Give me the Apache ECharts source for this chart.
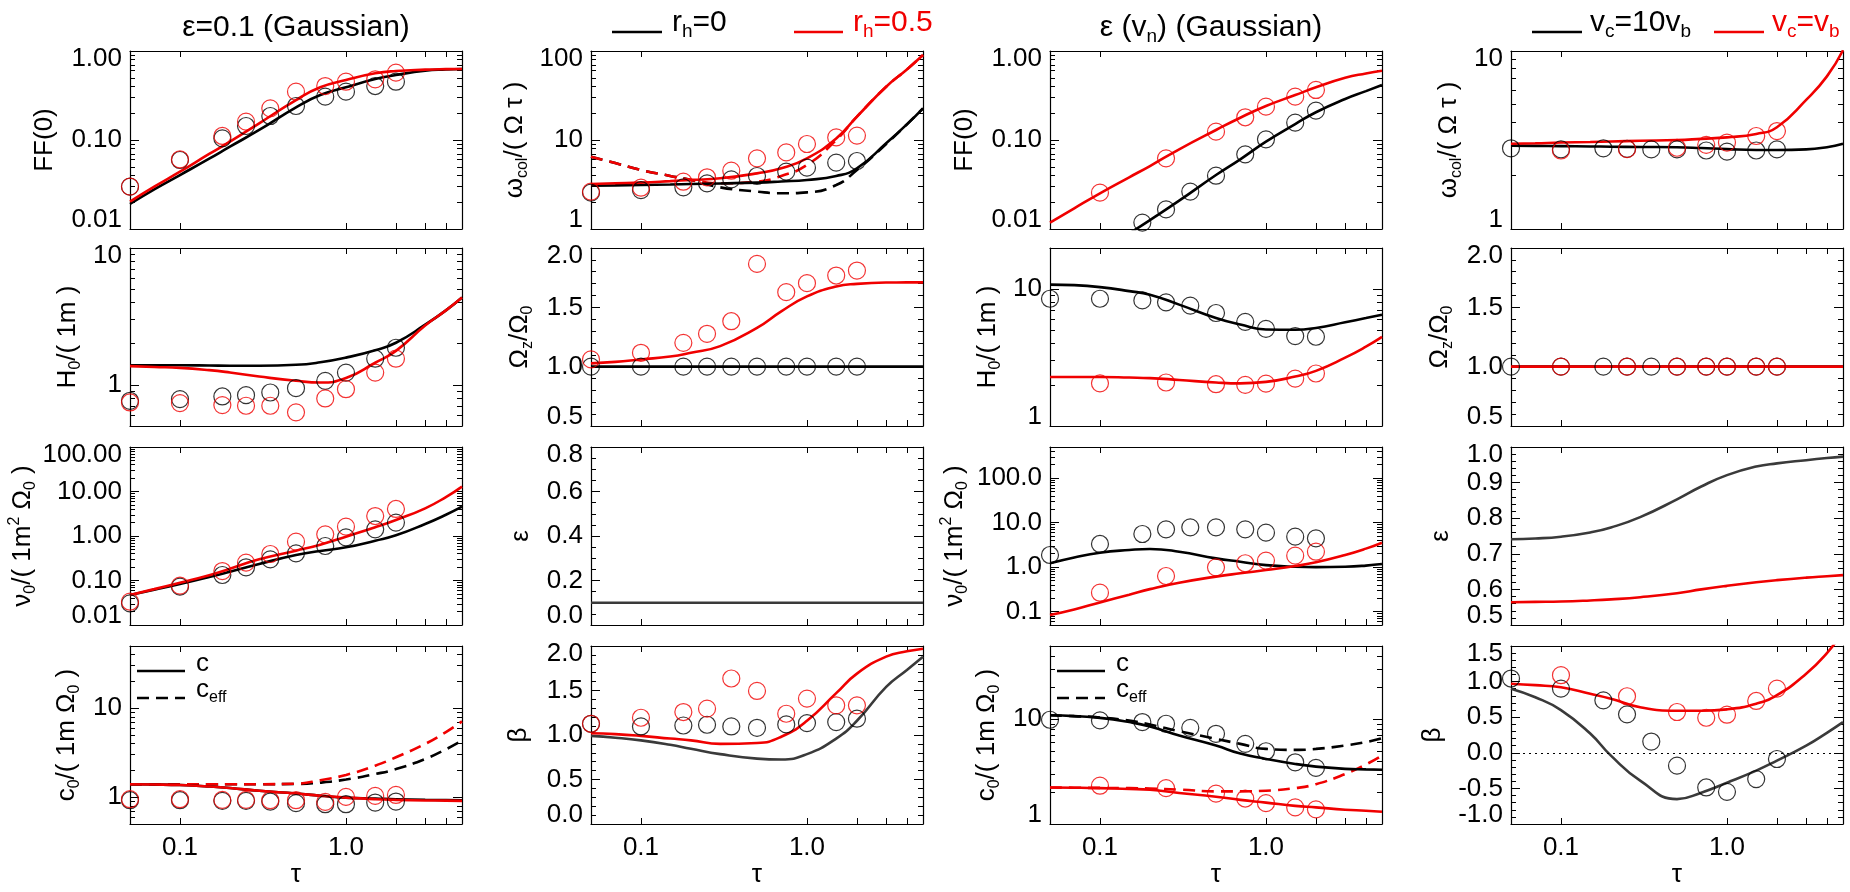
<!DOCTYPE html>
<html>
<head>
<meta charset="utf-8">
<title>Gaussian model comparison</title>
<script src="https://cdn.jsdelivr.net/npm/echarts@6/dist/echarts.min.js"></script>
<style>
  html, body { margin: 0; padding: 0; background: #fff; }
  #chart { width: 1850px; height: 892px; }
</style>
</head>
<body>
<div id="chart"></div>
<script>
// tau sampling of the model curves and of the simulation points
const tauLine = [0.05, 0.07, 0.1, 0.15, 0.2, 0.3, 0.5, 0.7, 1, 1.5, 2, 3, 4, 5];
const tauSim = [0.05, 0.1, 0.18, 0.25, 0.35, 0.5, 0.75, 1.0, 1.5, 2.0];
const tauSimRed = [0.1, 0.25, 0.5, 0.75, 1.0, 1.5, 2.0];
const xTickValues = [0.1, 1, 2, 3, 4];
const xLabelValues = [0.1, 1];
const xLabelText = ['0.1', '1.0'];

// column 1: eps = 0.1, r_h = 0 (black) / 0.5 (red)
const ff1Black = [0.0191, 0.0279, 0.0404, 0.0617, 0.0842, 0.1296, 0.233, 0.32, 0.391, 0.484, 0.537, 0.601, 0.620, 0.628];
const ff1Red = [0.0203, 0.0299, 0.044, 0.0697, 0.0958, 0.154, 0.281, 0.391, 0.472, 0.561, 0.596, 0.617, 0.625, 0.628];
const ff1BlackPts = [0.0299, 0.0596, 0.1044, 0.1436, 0.186, 0.241, 0.307, 0.349, 0.404, 0.452];
const ff1RedPts = [0.0299, 0.0605, 0.111, 0.1607, 0.227, 0.349, 0.404, 0.452, 0.481, 0.571];
const h1Black = [1.39, 1.39, 1.39, 1.385, 1.38, 1.38, 1.40, 1.46, 1.58, 1.79, 2.03, 2.75, 3.5, 4.35];
const h1Red = [1.37, 1.35, 1.33, 1.28, 1.23, 1.15, 1.07, 1.04, 1.12, 1.45, 1.77, 2.71, 3.5, 4.35];
const h1BlackPts = [0.764, 0.786, 0.822, 0.840, 0.879, 0.945, 1.068, 1.228, 1.552, 1.866];
const h1RedPts = [0.743, 0.735, 0.711, 0.703, 0.703, 0.629, 0.795, 0.929, 1.228, 1.552];
const nu1Black = [0.0472, 0.062, 0.0834, 0.120, 0.158, 0.235, 0.374, 0.46, 0.556, 0.785, 1.035, 1.86, 3.0, 4.56];
const nu1Red = [0.0472, 0.064, 0.0893, 0.132, 0.184, 0.299, 0.468, 0.638, 0.966, 1.57, 2.29, 4.19, 7.5, 12.9];
const nu1BlackPts = [0.0307, 0.0726, 0.133, 0.198, 0.299, 0.408, 0.596, 0.933, 1.41, 2.0];
const nu1RedPts = [0.0334, 0.0766, 0.163, 0.252, 0.394, 0.746, 1.09, 1.62, 2.81, 4.05];
const c1Black = [1.40, 1.39, 1.37, 1.32, 1.27, 1.18, 1.10, 1.04, 0.99, 0.967, 0.95, 0.935, 0.93, 0.925];
const c1Red = [1.40, 1.39, 1.37, 1.32, 1.27, 1.18, 1.10, 1.04, 0.99, 0.95, 0.933, 0.92, 0.915, 0.91];
const cEff1Black = [1.40, 1.40, 1.40, 1.40, 1.40, 1.40, 1.41, 1.46, 1.58, 1.82, 2.07, 2.69, 3.45, 4.33];
const cEff1Red = [1.40, 1.40, 1.40, 1.40, 1.40, 1.40, 1.42, 1.55, 1.78, 2.26, 2.81, 3.97, 5.4, 7.11];
const c1BlackPts = [0.925, 0.925, 0.91, 0.91, 0.894, 0.857, 0.834, 0.834, 0.871, 0.894];
const c1RedPts = [0.95, 0.95, 0.933, 0.933, 0.925, 0.925, 0.887, 1.01, 1.035, 1.06];

// column 2
const w2Black = [3.07, 3.09, 3.12, 3.16, 3.20, 3.25, 3.32, 3.42, 3.56, 3.94, 4.81, 9.18, 15.0, 22.7];
const w2Red = [3.20, 3.26, 3.32, 3.45, 3.56, 3.71, 4.22, 4.81, 6.22, 10.4, 18.3, 39.7, 62, 90.1];
const w2BlackDash = [6.5, 5.5, 4.6, 3.95, 3.56, 2.94, 2.63, 2.52, 2.58, 3.12, 4.6, 9.02, 15.0, 22.7];
const w2RedDash = [6.5, 5.5, 4.6, 3.95, 3.56, 3.26, 3.40, 3.94, 5.24, 10.0, 18.3, 39.7, 62, 90.1];
const w2BlackPts = [2.56, 2.74, 2.94, 3.26, 3.61, 3.94, 4.41, 4.89, 5.56, 5.81];
const w2RedPts = [2.63, 2.91, 3.40, 3.81, 4.52, 6.22, 7.26, 9.02, 10.7, 11.2];
const oz2Black = [1, 1, 1, 1, 1, 1, 1, 1, 1, 1, 1, 1, 1, 1];
const oz2Red = [1.028, 1.04, 1.061, 1.085, 1.117, 1.173, 1.327, 1.466, 1.592, 1.676, 1.698, 1.709, 1.71, 1.71];
const oz2BlackPts = [1, 1, 1, 1, 1, 1, 1, 1, 1, 1];
const oz2RedPts = [1.061, 1.117, 1.201, 1.277, 1.383, 1.866, 1.628, 1.704, 1.768, 1.810];
const eps2 = [0.1, 0.1, 0.1, 0.1, 0.1, 0.1, 0.1, 0.1, 0.1, 0.1, 0.1, 0.1, 0.1, 0.1];
const b2Black = [0.99, 0.97, 0.94, 0.89, 0.845, 0.785, 0.735, 0.725, 0.785, 0.96, 1.16, 1.54, 1.73, 1.88];
const b2Red = [1.02, 1.01, 0.99, 0.96, 0.94, 0.90, 0.91, 0.98, 1.16, 1.47, 1.69, 1.88, 1.94, 1.97];
const b2BlackPts = [1.126, 1.096, 1.107, 1.115, 1.096, 1.081, 1.119, 1.134, 1.145, 1.183];
const b2RedPts = [1.126, 1.194, 1.258, 1.296, 1.635, 1.495, 1.239, 1.409, 1.333, 1.333];

// column 3: eps(v_n)
const ff3Black = [null, null, null, 0.0089, 0.0126, 0.0208, 0.0404, 0.0607, 0.0958, 0.151, 0.205, 0.289, 0.354, 0.415];
const ff3Red = [0.0118, 0.0171, 0.0252, 0.0381, 0.051, 0.0786, 0.1296, 0.178, 0.241, 0.32, 0.391, 0.501, 0.56, 0.601];
const ff3BlackPts = [null, null, 0.0118, 0.0166, 0.0263, 0.0397, 0.069, 0.1017, 0.1566, 0.214];
const ff3RedPts = [0.0256, 0.0622, 0.124, 0.18, 0.237, 0.307, 0.365];
const h3Black = [10.8, 10.7, 10.35, 9.68, 9.12, 7.71, 6.16, 5.51, 5.07, 5.05, 5.21, 5.73, 6.15, 6.51];
const h3Red = [2.28, 2.28, 2.28, 2.26, 2.24, 2.17, 2.08, 2.05, 2.10, 2.30, 2.53, 3.16, 3.8, 4.48];
const h3BlackPts = [8.51, 8.51, 8.28, 8.01, 7.58, 6.70, 5.77, 5.13, 4.54, 4.49];
const h3RedPts = [2.05, 2.08, 2.02, 2.0, 2.04, 2.22, 2.42];
const nu3Black = [1.22, 1.65, 2.11, 2.42, 2.55, 2.22, 1.57, 1.32, 1.11, 1.02, 1.0, 1.02, 1.08, 1.17];
const nu3Red = [0.084, 0.112, 0.161, 0.24, 0.32, 0.447, 0.61, 0.725, 0.86, 1.06, 1.28, 1.87, 2.6, 3.54];
const nu3BlackPts = [1.87, 3.31, 5.55, 7.06, 7.83, 7.83, 7.06, 5.94, 4.83, 4.43];
const nu3RedPts = [0.266, 0.631, 0.989, 1.22, 1.40, 1.81, 2.22];
const c3Black = [10.9, 10.7, 10.3, 9.4, 8.53, 7.0, 5.61, 4.70, 4.18, 3.74, 3.53, 3.36, 3.32, 3.30];
const c3Red = [2.23, 2.22, 2.20, 2.16, 2.12, 1.98, 1.82, 1.70, 1.60, 1.49, 1.44, 1.37, 1.34, 1.31];
const cEff3Black = [10.9, 10.7, 10.4, 9.7, 8.9, 7.7, 6.50, 5.82, 5.21, 5.10, 5.21, 5.61, 6.05, 6.59];
const cEff3Red = [2.23, 2.22, 2.21, 2.20, 2.18, 2.13, 2.05, 2.05, 2.08, 2.20, 2.40, 3.0, 3.7, 4.50];
const c3BlackPts = [9.89, 9.75, 9.40, 9.05, 8.28, 7.26, 5.82, 4.95, 3.88, 3.43];
const c3RedPts = [2.32, 2.20, 1.95, 1.75, 1.58, 1.44, 1.38];

// column 4: v_c = 10 v_b (black) / v_c = v_b (red)
const w4Black = [2.94, 2.93, 2.92, 2.91, 2.90, 2.89, 2.88, 2.85, 2.81, 2.78, 2.78, 2.80, 2.88, 3.01];
const w4Red = [3.01, 3.03, 3.06, 3.08, 3.10, 3.13, 3.16, 3.21, 3.27, 3.42, 3.73, 5.31, 7.2, 10.1];
const w4BlackPts = [2.84, 2.80, 2.84, 2.82, 2.80, 2.80, 2.76, 2.72, 2.76, 2.80];
const w4RedPts = [2.76, 2.81, 2.86, 2.97, 3.06, 3.33, 3.55];
const oz4Black = [1, 1, 1, 1, 1, 1, 1, 1, 1, 1, 1, 1, 1, 1];
const oz4Red = [1, 1, 1, 1, 1, 1, 1, 1, 1, 1, 1, 1, 1, 1];
const oz4BlackPts = [1, 1, 1, 1, 1, 1, 1, 1, 1, 1];
const oz4RedPts = [1, 1, 1, 1, 1, 1, 1];
const eps4Black = [0.741, 0.743, 0.748, 0.760, 0.774, 0.803, 0.853, 0.889, 0.921, 0.945, 0.954, 0.963, 0.969, 0.973];
const eps4Red = [0.564, 0.565, 0.566, 0.569, 0.572, 0.578, 0.589, 0.600, 0.610, 0.620, 0.626, 0.633, 0.637, 0.640];
const b4Black = [0.90, 0.78, 0.60, 0.27, -0.04, -0.39, -0.65, -0.56, -0.42, -0.25, -0.11, 0.10, 0.28, 0.43];
const b4Red = [0.97, 0.95, 0.92, 0.83, 0.76, 0.64, 0.59, 0.59, 0.61, 0.69, 0.81, 1.11, 1.40, 1.70];
const b4BlackPts = [1.043, 0.902, 0.737, 0.540, 0.158, -0.181, -0.487, -0.548, -0.369, -0.087];
const b4RedPts = [1.090, 0.794, 0.573, 0.492, 0.535, 0.728, 0.902];

const BLACK = '#000000';
const RED = '#f00000';
const GRAY = '#3a3a3a';
const FONT = '"Liberation Sans", Arial, Helvetica, sans-serif';
const TICK_FONT = 26;
const NAME_FONT = 26;

const colLeft = [130, 591, 1050, 1511];
const rowTop = [51, 248, 447, 646];
const PW = 332, PH = 178;

function logMinor(lo, hi) {
  const out = [];
  for (let d = Math.floor(Math.log10(lo)); d <= Math.ceil(Math.log10(hi)); d++) {
    for (let k = 2; k <= 9; k++) {
      const v = parseFloat((k * Math.pow(10, d)).toPrecision(6));
      if (v > lo && v < hi) out.push(v);
    }
  }
  return out;
}
function linMinor(lo, hi, step) {
  const out = [];
  const n = Math.round((hi - lo) / step);
  for (let i = 1; i < n; i++) out.push(Math.round((lo + i * step) * 1000) / 1000);
  return out;
}

const L = (v, c, dash) => ({ v, c, dash });
const P = (x, v, c) => ({ x, v, c });

const ffAxis = { type: 'log', min: 0.01, max: 1, labels: [0.01, 0.1, 1], dec: 2, minor: logMinor(0.01, 1) };
const ozAxis = { type: 'value', min: 0.5, max: 2, labels: [0.5, 1, 1.5, 2], dec: 1, minor: linMinor(0.5, 2, 0.1) };

const panels = [
  { col: 0, row: 0, name: 'FF(0)', gap: 69, y: ffAxis,
    lines: [L(ff1Black, BLACK), L(ff1Red, RED)],
    pts: [P(tauSim, ff1BlackPts, BLACK), P(tauSim, ff1RedPts, RED)] },
  { col: 0, row: 1, name: 'H{sub|0}/( 1m )', gap: 46,
    y: { type: 'log', min: 0.5, max: 10, labels: [1, 10], dec: 0, minor: logMinor(0.5, 10) },
    lines: [L(h1Black, BLACK), L(h1Red, RED)],
    pts: [P(tauSim, h1BlackPts, BLACK), P(tauSim, h1RedPts, RED)] },
  { col: 0, row: 2, name: 'ν{sub|0}/( 1m{sup|2} Ω{sub|0} )', gap: 89,
    y: { type: 'log', min: 0.01, max: 100, labels: [0.01, 0.1, 1, 10, 100], dec: 2, minor: logMinor(0.01, 100) },
    lines: [L(nu1Black, BLACK), L(nu1Red, RED)],
    pts: [P(tauSim, nu1BlackPts, BLACK), P(tauSim, nu1RedPts, RED)] },
  { col: 0, row: 3, name: 'c{sub|0}/( 1m Ω{sub|0} )', gap: 47, legendC: true,
    y: { type: 'log', min: 0.5, max: 50, labels: [1, 10], dec: 0, minor: logMinor(0.5, 50) },
    lines: [L(cEff1Black, BLACK, true), L(cEff1Red, RED, true), L(c1Black, BLACK), L(c1Red, RED)],
    pts: [P(tauSim, c1BlackPts, BLACK), P(tauSim, c1RedPts, RED)] },

  { col: 1, row: 0, name: 'ω{sub|col}/( Ω τ )', gap: 60,
    y: { type: 'log', min: 1, max: 100, labels: [1, 10, 100], dec: 0, minor: logMinor(1, 100) },
    lines: [L(w2BlackDash, BLACK, true), L(w2RedDash, RED, true), L(w2Black, BLACK), L(w2Red, RED)],
    pts: [P(tauSim, w2BlackPts, BLACK), P(tauSim, w2RedPts, RED)] },
  { col: 1, row: 1, name: 'Ω{sub|z}/Ω{sub|0}', gap: 55, y: ozAxis,
    lines: [L(oz2Black, BLACK), L(oz2Red, RED)],
    pts: [P(tauSim, oz2BlackPts, BLACK), P(tauSim, oz2RedPts, RED)] },
  { col: 1, row: 2, name: 'ε', gap: 54,
    y: { type: 'value', min: 0, max: 0.8, labels: [0, 0.2, 0.4, 0.6, 0.8], dec: 1, minor: linMinor(0, 0.8, 0.05) },
    lines: [L(eps2, GRAY)], pts: [] },
  { col: 1, row: 3, name: 'β', gap: 56,
    y: { type: 'value', min: 0, max: 2, labels: [0, 0.5, 1, 1.5, 2], dec: 1, minor: linMinor(0, 2, 0.1) },
    lines: [L(b2Black, GRAY), L(b2Red, RED)],
    pts: [P(tauSim, b2BlackPts, BLACK), P(tauSim, b2RedPts, RED)] },

  { col: 2, row: 0, name: 'FF(0)', gap: 69, y: ffAxis,
    lines: [L(ff3Black, BLACK), L(ff3Red, RED)],
    pts: [P(tauSim, ff3BlackPts, BLACK), P(tauSimRed, ff3RedPts, RED)] },
  { col: 2, row: 1, name: 'H{sub|0}/( 1m )', gap: 46,
    y: { type: 'log', min: 1, max: 20, labels: [1, 10], dec: 0, minor: logMinor(1, 20) },
    lines: [L(h3Black, BLACK), L(h3Red, RED)],
    pts: [P(tauSim, h3BlackPts, BLACK), P(tauSimRed, h3RedPts, RED)] },
  { col: 2, row: 2, name: 'ν{sub|0}/( 1m{sup|2} Ω{sub|0} )', gap: 79,
    y: { type: 'log', min: 0.05, max: 500, labels: [0.1, 1, 10, 100], dec: 1, minor: logMinor(0.05, 500) },
    lines: [L(nu3Black, BLACK), L(nu3Red, RED)],
    pts: [P(tauSim, nu3BlackPts, BLACK), P(tauSimRed, nu3RedPts, RED)] },
  { col: 2, row: 3, name: 'c{sub|0}/( 1m Ω{sub|0} )', gap: 47, legendC: true,
    y: { type: 'log', min: 1, max: 50, labels: [1, 10], dec: 0, minor: logMinor(1, 50) },
    lines: [L(cEff3Black, BLACK, true), L(cEff3Red, RED, true), L(c3Black, BLACK), L(c3Red, RED)],
    pts: [P(tauSim, c3BlackPts, BLACK), P(tauSimRed, c3RedPts, RED)] },

  { col: 3, row: 0, name: 'ω{sub|col}/( Ω τ )', gap: 46,
    y: { type: 'log', min: 1, max: 10, labels: [1, 10], dec: 0, minor: logMinor(1, 10) },
    lines: [L(w4Black, BLACK), L(w4Red, RED)],
    pts: [P(tauSim, w4BlackPts, BLACK), P(tauSimRed, w4RedPts, RED)] },
  { col: 3, row: 1, name: 'Ω{sub|z}/Ω{sub|0}', gap: 55, y: ozAxis,
    lines: [L(oz4Black, BLACK), L(oz4Red, RED)],
    pts: [P(tauSim, oz4BlackPts, BLACK), P(tauSimRed, oz4RedPts, RED)] },
  { col: 3, row: 2, name: 'ε', gap: 54,
    y: { type: 'value', min: 0.5, max: 1, labels: [0.5, 0.6, 0.7, 0.8, 0.9, 1.0], dec: 1, minor: linMinor(0.5, 1, 0.02) },
    lines: [L(eps4Black, GRAY), L(eps4Red, RED)], pts: [] },
  { col: 3, row: 3, name: 'β', gap: 62, zeroLine: true,
    y: { type: 'value', min: -1, max: 1.5, labels: [-1, -0.5, 0, 0.5, 1, 1.5], dec: 1, minor: linMinor(-1, 1.5, 0.1) },
    lines: [L(b4Black, GRAY), L(b4Red, RED)],
    pts: [P(tauSim, b4BlackPts, BLACK), P(tauSimRed, b4RedPts, RED)] }
];

const grid = [], xAxis = [], yAxis = [], series = [];

const near = (a, b) => Math.abs(a - b) <= 1e-6 * Math.max(1, Math.abs(b));
const frame = () => ({ show: true, onZero: false, lineStyle: { color: '#000', width: 1.2 } });
const tickStyle = () => ({ color: '#000', width: 1 });
const nameStyle = () => ({
  fontSize: NAME_FONT, color: '#000', fontFamily: FONT, lineHeight: 32,
  rich: {
    sub: { fontSize: 16, lineHeight: 16, verticalAlign: 'bottom', color: '#000', fontFamily: FONT },
    sup: { fontSize: 16, lineHeight: 16, verticalAlign: 'top', color: '#000', fontFamily: FONT }
  }
});

function addXAxes(gi, bottomRow) {
  const base = () => ({
    type: 'log', logBase: 10, gridIndex: gi, min: 0.05, max: 5,
    splitLine: { show: false },
    axisLine: frame(),
    axisTick: { show: true, inside: true, length: 6, customValues: xTickValues, lineStyle: tickStyle() }
  });
  xAxis.push(Object.assign(base(), {
    position: 'bottom',
    axisLabel: {
      show: bottomRow, customValues: xLabelValues, margin: 11,
      fontSize: TICK_FONT, color: '#000', fontFamily: FONT,
      formatter: v => {
        const i = xLabelValues.findIndex(t => near(v, t));
        return i >= 0 ? xLabelText[i] : '';
      }
    },
    name: bottomRow ? 'τ' : '', nameLocation: 'middle', nameGap: 36,
    nameTextStyle: { fontSize: NAME_FONT, color: '#000', fontFamily: FONT }
  }));
  xAxis.push(Object.assign(base(), { position: 'top', axisLabel: { show: false } }));
}

function addYAxes(gi, p) {
  const y = p.y;
  const base = () => ({ type: y.type, logBase: 10, gridIndex: gi, min: y.min, max: y.max, splitLine: { show: false } });
  const lab = { fontSize: TICK_FONT, color: '#000', fontFamily: FONT };
  yAxis.push(Object.assign(base(), {
    position: 'left',
    axisLine: frame(),
    axisTick: { show: true, inside: true, length: 9, customValues: y.labels, lineStyle: tickStyle() },
    axisLabel: Object.assign({}, lab, {
      customValues: y.labels, margin: 8,
      formatter: v => {
        const s = v.toFixed(y.dec);
        if (near(v, y.max)) return '{t|' + s + '}';
        if (near(v, y.min)) return '{b|' + s + '}';
        return s;
      },
      rich: {
        t: Object.assign({ padding: [16, 0, 0, 0] }, lab),
        b: Object.assign({ padding: [0, 0, 18, 0] }, lab)
      }
    }),
    name: p.name, nameLocation: 'middle', nameGap: p.gap, nameTextStyle: nameStyle()
  }));
  yAxis.push(Object.assign(base(), {
    position: 'right', axisLine: frame(),
    axisTick: { show: true, inside: true, length: 9, customValues: y.labels, lineStyle: tickStyle() },
    axisLabel: { show: false }
  }));
  ['left', 'right'].forEach(pos => yAxis.push(Object.assign(base(), {
    position: pos, axisLine: { show: false },
    axisTick: { show: true, inside: true, length: 5, customValues: y.minor, lineStyle: tickStyle() },
    axisLabel: { show: false }
  })));
}

const zip = (xs, vs) => xs.map((x, i) => [x, vs[i]]).filter(d => d[1] !== null && d[1] !== undefined);

panels.forEach(p => {
  const gi = grid.length;
  grid.push({ left: colLeft[p.col], top: rowTop[p.row], width: PW, height: PH, outerBoundsMode: 'none' });
  const xi = xAxis.length;
  addXAxes(gi, p.row === 3);
  const yi = yAxis.length;
  addYAxes(gi, p);

  p.lines.forEach((l, k) => {
    const s = {
      type: 'line', xAxisIndex: xi, yAxisIndex: yi,
      data: zip(tauLine, l.v), smooth: 0.5, symbol: 'none', silent: true,
      lineStyle: { color: l.c, width: 2.6, type: l.dash ? [12, 7] : 'solid' },
      z: 3
    };
    if (p.zeroLine && k === 0) {
      s.markLine = {
        silent: true, symbol: 'none', label: { show: false },
        lineStyle: { color: '#000', width: 1.2, type: [2, 4] },
        data: [{ yAxis: 0 }]
      };
    }
    series.push(s);
  });
  p.pts.forEach(s => series.push({
    type: 'scatter', xAxisIndex: xi, yAxisIndex: yi,
    data: zip(s.x, s.v), symbol: 'circle', symbolSize: 17, silent: true,
    itemStyle: { color: 'rgba(0,0,0,0)', borderColor: s.c, borderWidth: 1.2 },
    z: 4
  }));
});

// titles, legends and the c / c_eff keys
const subRich = (size, color) => ({
  sub: { fontSize: size, lineHeight: size, verticalAlign: 'bottom', fill: color, fontFamily: FONT }
});
function gText(text, x, y, size, color, align) {
  return {
    type: 'text', x, y, silent: true,
    style: {
      text, fill: color, fontSize: size, fontFamily: FONT, lineHeight: size + 6,
      align: align || 'left', verticalAlign: 'middle', rich: subRich(Math.round(size * 0.62), color)
    }
  };
}
function gLine(x1, x2, y, color, dash) {
  return {
    type: 'line', silent: true, shape: { x1, y1: y, x2, y2: y },
    style: { stroke: color, lineWidth: dash ? 2.6 : 2.4, lineDash: dash ? [12, 7] : null }
  };
}

const graphic = [
  gText('ε=0.1 (Gaussian)', 296, 28, 30, BLACK, 'center'),
  gText('ε (v{sub|n}) (Gaussian)', 1211, 28, 30, BLACK, 'center'),
  gLine(612, 662, 32, BLACK), gText('r{sub|h}=0', 672, 23, 30, BLACK),
  gLine(794, 843, 32, RED), gText('r{sub|h}=0.5', 853, 23, 30, RED),
  gLine(1532, 1582, 32, BLACK), gText('v{sub|c}=10v{sub|b}', 1590, 23, 30, BLACK),
  gLine(1714, 1764, 32, RED), gText('v{sub|c}=v{sub|b}', 1772, 23, 30, RED)
];
panels.filter(p => p.legendC).forEach(p => {
  const x0 = colLeft[p.col];
  graphic.push(gLine(x0 + 7, x0 + 55, 671, BLACK));
  graphic.push(gLine(x0 + 7, x0 + 55, 698, BLACK, true));
  graphic.push(gText('c', x0 + 66, 664, 26, BLACK));
  graphic.push(gText('c{sub|eff}', x0 + 66, 690, 26, BLACK));
});

const chart = echarts.init(document.getElementById('chart'), null, { renderer: 'canvas' });
chart.setOption({
  animation: false,
  backgroundColor: '#ffffff',
  textStyle: { fontFamily: FONT },
  grid, xAxis, yAxis, series, graphic
});
</script>
</body>
</html>
